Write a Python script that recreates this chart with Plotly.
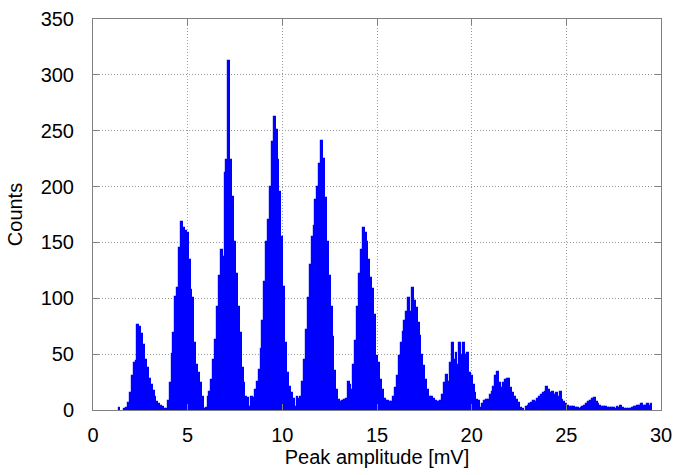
import plotly.graph_objects as go

# ── Histogram data: 0.1 mV bins, first bin centred at 0.0 mV ─────────────────
BIN_START = 0.0
BIN_WIDTH = 0.1

# one row per mV (10 bins each)
counts = [
    0, 0, 0, 0, 0, 0, 0, 0, 0, 0,                 # 0
    0, 0, 0, 0, 2, 0, 0, 1, 2, 6,                 # 1
    15, 30, 42, 44, 76, 74, 68, 58, 45, 38,       # 2
    28, 22, 17, 12, 7, 5, 4, 3, 1, 1,             # 3
    8, 24, 50, 69, 101, 109, 145, 168, 163, 160,  # 4
    158, 134, 107, 100, 60, 40, 33, 24, 12, 1,    # 5
    2, 12, 16, 27, 45, 63, 92, 120, 143, 137,     # 6
    212, 224, 312, 224, 191, 150, 122, 92, 69, 38,  # 7
    24, 12, 11, 3, 12, 11, 18, 25, 36, 55,        # 8
    80, 115, 150, 170, 200, 240, 262, 251, 224, 195,  # 9
    155, 110, 60, 33, 21, 15, 10, 3, 12, 10,      # 10
    12, 25, 45, 72, 100, 130, 155, 165, 188, 200,  # 11
    220, 241, 225, 190, 150, 120, 92, 65, 35, 18,  # 12
    9, 7, 8, 9, 10, 25, 22, 18, 40, 62,           # 13
    92, 122, 143, 163, 158, 150, 134, 118, 108, 85,  # 14
    48, 42, 27, 18, 10, 8, 8, 7, 7, 12,           # 15
    20, 30, 48, 60, 70, 80, 88, 100, 88, 109,     # 16
    98, 91, 78, 66, 49, 39, 27, 18, 12, 12,       # 17
    10, 8, 7, 7, 8, 13, 24, 31, 25, 42,           # 18
    60, 45, 51, 40, 60, 49, 60, 49, 51, 33,       # 19
    30, 22, 15, 9, 8, 2, 5, 8, 9, 9,              # 20
    13, 16, 21, 30, 34, 24, 20, 24, 27, 28,       # 21
    28, 20, 15, 12, 9, 6, 2, 1, 0, 3,             # 22
    4, 5, 6, 8, 7, 10, 12, 13, 15, 16,            # 23
    21, 18, 15, 16, 13, 15, 12, 16, 9, 7,         # 24
    5, 4, 3, 3, 3, 2, 2, 1, 2, 3,                 # 25
    4, 5, 7, 8, 10, 11, 7, 5, 4, 3,               # 26
    3, 3, 2, 2, 2, 2, 1, 3, 2, 4,                 # 27
    2, 1, 1, 1, 1, 2, 3, 3, 4, 4,                 # 28
    5, 4, 4, 5, 4, 5, 0, 0, 0, 0,                 # 29
]

x_ticks = [0, 5, 10, 15, 20, 25, 30]
y_ticks = [0, 50, 100, 150, 200, 250, 300, 350]

FONT = "Liberation Sans, Arial, Helvetica, sans-serif"
FONT_SIZE = 20

# empty bins are left out so their outline doesn't paint the baseline blue
bar_heights = [c if c > 0 else None for c in counts]

fig = go.Figure()
fig.add_trace(go.Bar(
    x0=BIN_START,
    dx=BIN_WIDTH,
    y=bar_heights,
    width=BIN_WIDTH,
    # outline in the fill colour hides the antialiasing seams between bins
    marker=dict(color="#0000ff", line=dict(width=1.2, color="#0000ff")),
))

axis_style = dict(
    showline=True, mirror="ticks", linecolor="#808080", linewidth=1,
    ticks="inside", ticklen=6, tickcolor="#808080",
    showgrid=True, gridcolor="#9a9a9a", griddash="1px,2px", gridwidth=1,
    zeroline=False, automargin=False,
    tickfont=dict(family=FONT, size=FONT_SIZE, color="black"),
)

fig.update_layout(
    width=677, height=475,
    margin=dict(l=93, r=16, t=19, b=65),
    plot_bgcolor="white",
    paper_bgcolor="white",
    bargap=0,
    showlegend=False,
    font=dict(family=FONT, size=FONT_SIZE, color="black"),
)
fig.update_xaxes(
    range=[0, 30], tickvals=x_ticks, ticklabelstandoff=7,
    title=dict(text="Peak amplitude [mV]", font=dict(family=FONT, size=FONT_SIZE), standoff=3),
    **axis_style,
)
fig.update_yaxes(
    range=[0, 350], tickvals=y_ticks, ticklabelstandoff=14,
    title=dict(text="Counts", font=dict(family=FONT, size=FONT_SIZE), standoff=12),
    **axis_style,
)

# page body has a default 8px margin; drop it so the figure sits at the corner
fig.write_html(
    "out.html",
    config={"displayModeBar": False},
    post_script="document.body.style.margin='0px';",
)
